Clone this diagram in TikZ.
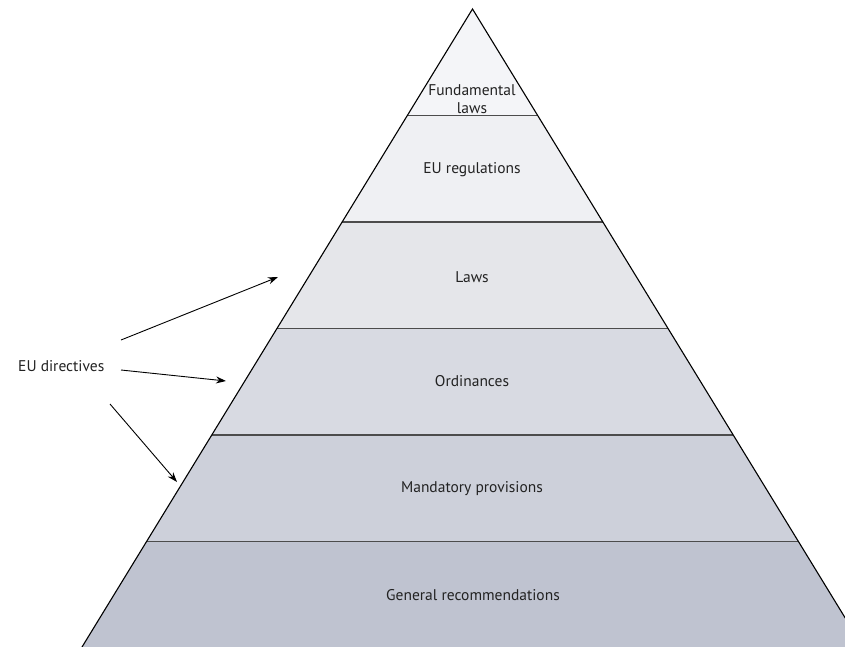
\documentclass[tikz,border=0pt]{standalone}
\usepackage{fontspec}
\setmainfont{PT Sans}
\usetikzlibrary{arrows.meta,calc}
\definecolor{cA}{HTML}{F4F5F8}
\definecolor{cB}{HTML}{EFF0F3}
\definecolor{cC}{HTML}{E5E6EA}
\definecolor{cD}{HTML}{D8DAE2}
\definecolor{cE}{HTML}{CDD0DA}
\definecolor{cF}{HTML}{BFC3D0}
\definecolor{txt}{HTML}{222222}
\begin{document}
\begin{tikzpicture}[x=1pt,y=-1pt,
  lbl/.style={font=\fontsize{15.5}{17.5}\selectfont, text=txt, align=center, inner sep=0pt},
  sep/.style={draw=black!70, line width=1.3pt},
  outl/.style={draw=black, line width=1.1pt, line join=miter},
  arr/.style={-{Stealth[length=10pt,width=7pt]}, line width=0.9pt}]
\useasboundingbox (0,0) rectangle (845,646);
\clip (0,0) rectangle (845,646);
\coordinate (apex) at (472.5,9);
\coordinate (bl) at (81.4,648);
\coordinate (br) at (863.6,648);
% bands
\foreach \k/\c in {0/cA,1/cB,2/cC,3/cD,4/cE,5/cF}{
  \pgfmathsetmacro{\ta}{\k/6}
  \pgfmathsetmacro{\tb}{(\k+1)/6}
  \fill[\c] ($(apex)!\ta!(bl)$) -- ($(apex)!\tb!(bl)$) -- ($(apex)!\tb!(br)$) -- ($(apex)!\ta!(br)$) -- cycle;
}
% separators
\foreach \k in {1,...,5}{
  \pgfmathsetmacro{\ta}{\k/6}
  \draw[sep] ($(apex)!\ta!(bl)$) -- ($(apex)!\ta!(br)$);
}
\draw[outl] (bl) -- (apex) -- (br);
% labels
\node[lbl] (fund) at (472,99) {Fundamental\\laws};
\node[lbl] (reg) at (472,170) {EU regulations};
\node[lbl] (laws) at (472,277) {Laws};
\node[lbl] (ord) at (472,381) {Ordinances};
\node[lbl] (mand) at (472,489) {Mandatory provisions};
\node[lbl] (gen) at (473,595) {General recommendations};
\node[lbl, anchor=west] (dir) at (18,366) {EU directives};
% arrows
\coordinate (s1) at (121,340);
\coordinate (e1) at (278,277);
\coordinate (s2) at (121,370);
\coordinate (e2) at (226,381);
\coordinate (s3) at (110,404);
\coordinate (e3) at (177,482);
\draw[arr] (s1) -- (e1);
\draw[arr] (s2) -- (e2);
\draw[arr] (s3) -- (e3);
\end{tikzpicture}
\end{document}
